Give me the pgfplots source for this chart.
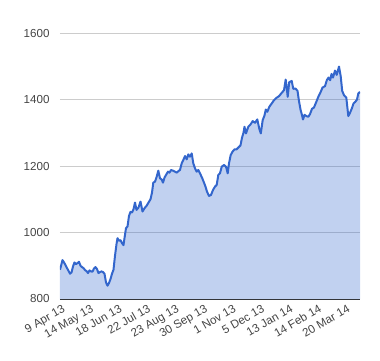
\documentclass[border=0pt]{standalone}
\usepackage{pgfplots}
\pgfplotsset{compat=1.18}
\usepackage{pgfplotstable}
\usepackage{fontspec}
\setmainfont{Liberation Sans}
\definecolor{gblue}{HTML}{3366CC}
\definecolor{gridc}{HTML}{CCCCCC}
\definecolor{txt}{HTML}{444444}
\pgfplotstableread{
x y
0 888
1.5 905
2.5 917
4 910
5.5 902
7 893
8.5 885
10 876
11.5 880
13 898
14.5 910
16 905
17.5 908
19 912
20.5 900
22 896
23.5 893
25 887
26.5 884
28 878
29.5 886
31 883
32.5 882
34 892
35.5 896
37 890
38.5 878
40 881
41.5 883
43 881
44.5 876
46 850
47.5 840
49 848
50.5 860
52 876
53.5 888
55 930
56.5 965
57.5 983
59 975
60.5 977
62 968
63.5 962
64.5 983
66 1013
67.5 1018
69 1050
70.5 1062
72 1060
73.5 1070
75 1090
76.5 1068
78.5 1075
80.5 1093
82.5 1063
84.5 1073
86.5 1080
88.5 1090
90.5 1100
92 1120
93.3 1150
95 1153
96.7 1168
98.3 1186
100 1163
101.5 1160
103 1150
104.5 1165
106 1173
108 1183
109.5 1180
111 1188
113 1186
115 1183
116.7 1180
118.5 1185
120 1188
121.7 1208
123.3 1218
125 1230
126.7 1220
128.3 1235
130 1228
131.7 1238
133.3 1208
135 1193
136.7 1183
138.3 1188
140 1178
142.3 1163
144 1150
145.5 1138
147 1123
149 1110
151 1113
153 1128
155 1138
156.7 1143
158.3 1173
160 1178
161.7 1198
164 1203
166 1198
167.7 1178
169 1208
170.7 1233
172.5 1243
174.5 1250
176.5 1250
178.5 1256
180.5 1262
182 1285
183.5 1300
184.5 1318
186 1298
188.3 1318
190.5 1325
192.7 1335
195 1330
197.3 1340
199.3 1312
200.8 1298
202.7 1338
204.5 1352
205.8 1370
207.3 1363
209.3 1378
211.7 1388
214 1398
216.5 1405
219 1410
221.7 1420
224 1428
225.7 1460
226.7 1436
227.7 1408
229.2 1452
231.7 1456
233.3 1432
235.5 1433
237.5 1426
239 1395
240.5 1370
241.8 1355
243 1340
244.5 1354
246.5 1350
248.3 1348
250 1356
252 1372
254 1376
256.3 1393
258.3 1408
260.3 1420
262.5 1436
265 1440
266.8 1458
268.5 1466
270.2 1458
271.5 1477
273 1466
275 1487
276.7 1474
279 1499
280.7 1470
282.2 1426
284 1413
286.3 1406
288.3 1350
290 1360
291.8 1373
293.5 1388
295.3 1393
297 1400
298.3 1418
300 1423
}\datatable
\begin{document}
\begin{tikzpicture}
\useasboundingbox (-60pt,-61pt) rectangle (320pt,299pt);
\begin{axis}[
  at={(0,0)}, anchor=south west,
  scale only axis, width=300pt, height=266pt,
  xmin=0, xmax=300, ymin=800, ymax=1600,
  axis lines=left, axis line style={draw=none},
  ytick={1000,1200,1400,1600},
  extra y ticks={800},
  extra y tick style={grid style={draw=black!80, line width=1pt}},
  ymajorgrids, grid style={draw=gridc, line width=0.8pt},
  xtick={0,28.5,57,85.5,114,142.5,171,199.5,228,256.5,285},
  xticklabels={9 Apr 13,14 May 13,18 Jun 13,22 Jul 13,23 Aug 13,30 Sep 13,1 Nov 13,5 Dec 13,13 Jan 14,14 Feb 14,20 Mar 14},
  major tick length=0pt,
  tick label style={font=\fontsize{11.6}{13}\selectfont, text=txt},
  /pgf/number format/assume math mode=true,
  /pgf/number format/1000 sep={},
  yticklabel style={xshift=-7pt},
  xticklabel style={rotate=30, anchor=north east, inner sep=1pt, yshift=-4pt},
]
\addplot[draw=none, fill=gblue, fill opacity=0.3] table[x=x,y=y]{\datatable} \closedcycle;
\addplot[gblue, line width=2pt, line join=round] table[x=x,y=y]{\datatable};
\end{axis}
\end{tikzpicture}
\end{document}
